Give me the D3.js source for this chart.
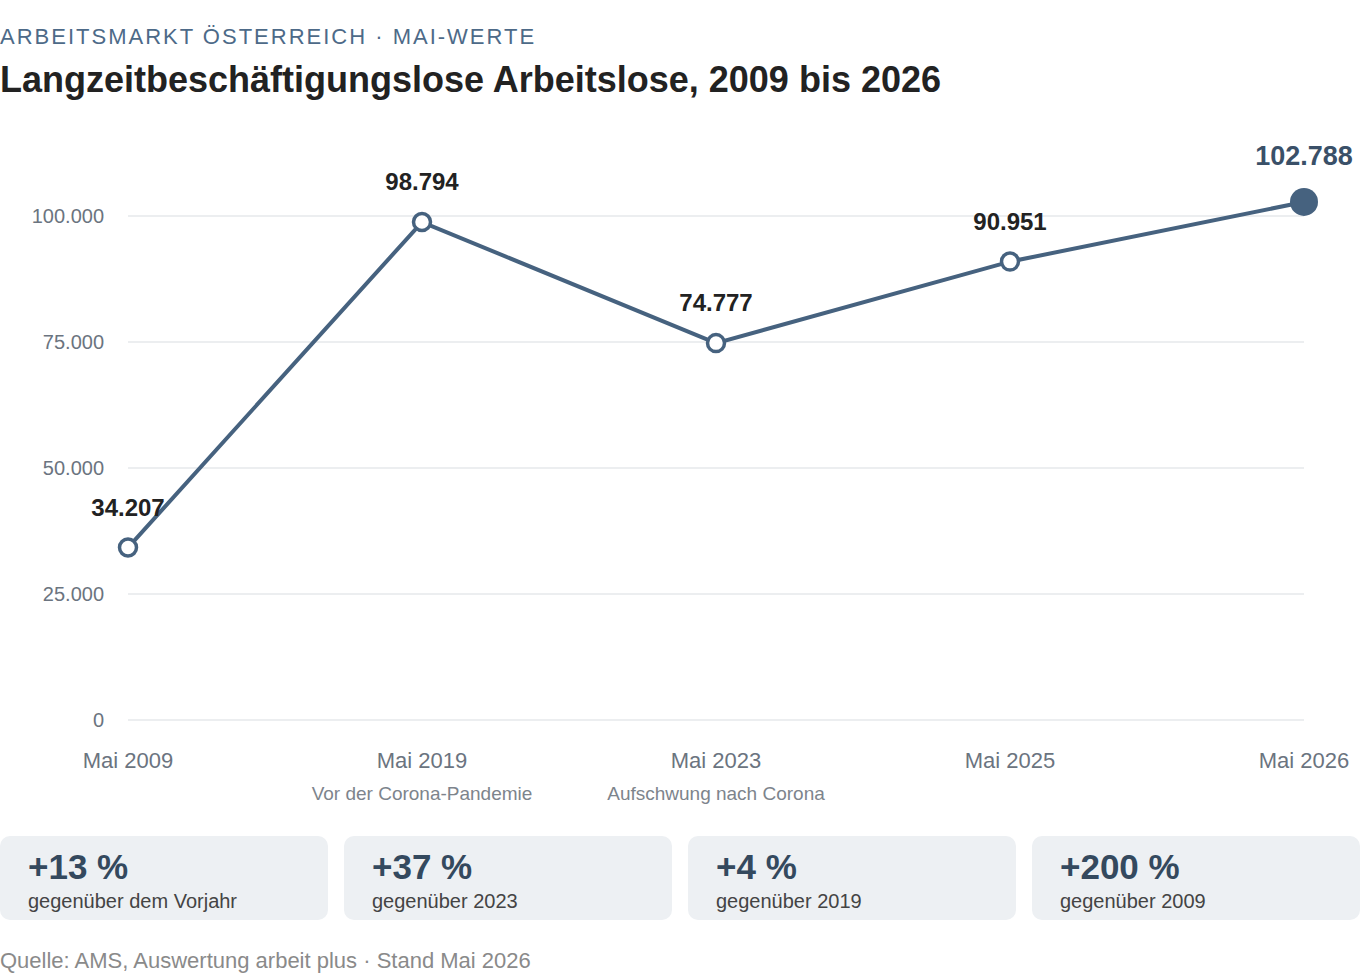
<!DOCTYPE html>
<html><head><meta charset="utf-8">
<script src="https://cdn.jsdelivr.net/npm/d3@7"></script>
<style>body{margin:0;background:#fff;font-family:"Liberation Sans",Arial,sans-serif}</style>
</head><body><svg id="c" width="1360" height="976"></svg>
<script>
const categories=["Mai 2009","Mai 2019","Mai 2023","Mai 2025","Mai 2026"];
const subLabels=["","Vor der Corona-Pandemie","Aufschwung nach Corona","",""];
const values=[34207,98794,74777,90951,102788];
const yTicks=[0,25000,50000,75000,100000];
const cardBig=["+13 %","+37 %","+4 %","+200 %"];
const cardSmall=["gegenüber dem Vorjahr","gegenüber 2023","gegenüber 2019","gegenüber 2009"];
const fmt=v=>d3.format(",")(v).replace(/,/g,".");
const svg=d3.select("#c");
const col="#46627f";
svg.append("text").attr("x",0).attr("y",44).attr("font-size",22).attr("letter-spacing",2).attr("fill","#4d6a88").text("ARBEITSMARKT ÖSTERREICH · MAI-WERTE");
svg.append("text").attr("x",0).attr("y",92).attr("font-size",36).attr("font-weight","bold").attr("fill","#222").text("Langzeitbeschäftigungslose Arbeitslose, 2009 bis 2026");
const x=d3.scalePoint().domain(categories).range([128,1304]);
const y=d3.scaleLinear().domain([0,100000]).range([720,216]);
yTicks.forEach(t=>{
 svg.append("line").attr("x1",128).attr("x2",1304).attr("y1",y(t)).attr("y2",y(t)).attr("stroke","#e6e8eb").attr("stroke-width",1.5);
 svg.append("text").attr("x",104).attr("y",y(t)+7).attr("text-anchor","end").attr("font-size",20).attr("fill","#6b7480").text(fmt(t));
});
categories.forEach((c,i)=>{
 svg.append("text").attr("x",x(c)).attr("y",768).attr("text-anchor","middle").attr("font-size",22).attr("fill","#6b7480").text(c);
 if(subLabels[i])svg.append("text").attr("x",x(c)).attr("y",800).attr("text-anchor","middle").attr("font-size",19).attr("fill","#7d848c").text(subLabels[i]);
});
svg.append("path").datum(values).attr("fill","none").attr("stroke",col).attr("stroke-width",4)
 .attr("d",d3.line().x((d,i)=>x(categories[i])).y(d=>y(d)));
values.forEach((v,i)=>{
 const last=i===values.length-1;
 svg.append("circle").attr("cx",x(categories[i])).attr("cy",y(v)).attr("r",last?14:8.5)
  .attr("fill",last?col:"#fff").attr("stroke",col).attr("stroke-width",last?0:3.5);
 svg.append("text").attr("x",x(categories[i])).attr("y",y(v)-(last?37:32)).attr("text-anchor","middle")
  .attr("font-size",last?27:24).attr("font-weight","bold").attr("fill",last?"#3a5068":"#222").text(fmt(v));
});
cardBig.forEach((b,i)=>{
 const x0=i*344;
 svg.append("rect").attr("x",x0).attr("y",836).attr("width",328).attr("height",84).attr("rx",10).attr("fill","#edf0f3");
 svg.append("text").attr("x",x0+28).attr("y",879).attr("font-size",35).attr("font-weight","bold").attr("fill","#34495e").text(b);
 svg.append("text").attr("x",x0+28).attr("y",908).attr("font-size",20).attr("fill","#444").text(cardSmall[i]);
});
svg.append("text").attr("x",0).attr("y",968).attr("font-size",22).attr("fill","#8a8a8a").text("Quelle: AMS, Auswertung arbeit plus · Stand Mai 2026");
</script></body></html>
